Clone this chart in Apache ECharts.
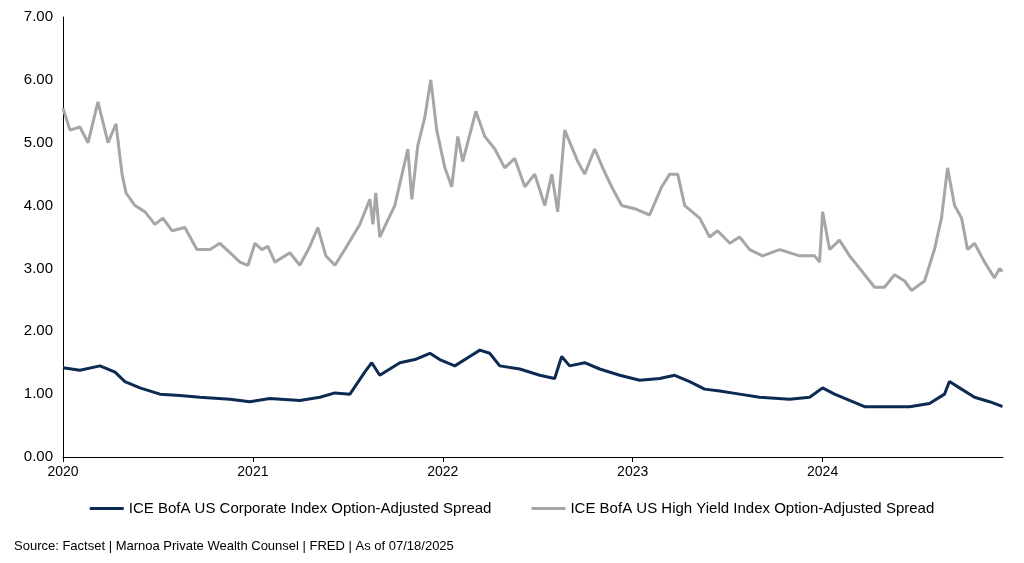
<!DOCTYPE html>
<html><head><meta charset="utf-8">
<script src="https://cdn.jsdelivr.net/npm/echarts@6/dist/echarts.min.js"></script>
<style>html,body{margin:0;padding:0;background:#fff}#c{width:1024px;height:563px}</style>
</head><body><div id="c"></div>
<script>
const yLabels = ['0.00','1.00','2.00','3.00','4.00','5.00','6.00','7.00'];
const seriesNames = ['ICE BofA US Corporate Index Option-Adjusted Spread','ICE BofA US High Yield Index Option-Adjusted Spread'];
const hyYears = [2020.000,2020.037,2020.089,2020.132,2020.184,2020.237,2020.279,2020.311,2020.332,2020.379,2020.432,2020.484,2020.526,2020.574,2020.642,2020.705,2020.774,2020.826,2020.879,2020.932,2020.974,2021.011,2021.047,2021.079,2021.116,2021.195,2021.247,2021.300,2021.342,2021.384,2021.432,2021.484,2021.563,2021.616,2021.632,2021.647,2021.668,2021.747,2021.816,2021.837,2021.868,2021.905,2021.937,2021.968,2022.011,2022.047,2022.079,2022.105,2022.174,2022.221,2022.274,2022.326,2022.379,2022.432,2022.484,2022.537,2022.574,2022.605,2022.642,2022.711,2022.747,2022.800,2022.842,2022.889,2022.942,2023.011,2023.089,2023.153,2023.195,2023.237,2023.274,2023.353,2023.405,2023.447,2023.511,2023.563,2023.616,2023.684,2023.774,2023.879,2023.958,2023.984,2024.000,2024.037,2024.089,2024.142,2024.195,2024.274,2024.326,2024.379,2024.432,2024.468,2024.537,2024.589,2024.626,2024.658,2024.695,2024.732,2024.763,2024.800,2024.853,2024.905,2024.932,2024.947];
const hyValues = [5.55,5.2,5.25,5.0,5.65,5.0,5.3,4.5,4.2,4.0,3.9,3.7,3.8,3.6,3.65,3.3,3.3,3.4,3.25,3.1,3.05,3.4,3.3,3.35,3.1,3.25,3.05,3.35,3.65,3.2,3.05,3.3,3.7,4.1,3.7,4.2,3.5,4.0,4.9,4.1,4.95,5.4,6.0,5.2,4.6,4.3,5.1,4.7,5.5,5.1,4.9,4.6,4.75,4.3,4.5,4.0,4.5,3.9,5.2,4.7,4.5,4.9,4.6,4.3,4.0,3.95,3.85,4.3,4.5,4.5,4.0,3.8,3.5,3.6,3.4,3.5,3.3,3.2,3.3,3.2,3.2,3.1,3.9,3.3,3.45,3.2,3.0,2.7,2.7,2.9,2.8,2.65,2.8,3.3,3.8,4.6,4.0,3.8,3.3,3.4,3.1,2.85,3.0,2.95];
const igYears = [2020.000,2020.089,2020.195,2020.274,2020.326,2020.405,2020.511,2020.616,2020.721,2020.879,2020.984,2021.089,2021.247,2021.353,2021.432,2021.511,2021.589,2021.626,2021.668,2021.774,2021.853,2021.932,2021.984,2022.063,2022.142,2022.195,2022.247,2022.300,2022.405,2022.511,2022.589,2022.626,2022.668,2022.747,2022.826,2022.932,2023.037,2023.142,2023.221,2023.300,2023.379,2023.458,2023.563,2023.668,2023.826,2023.932,2024.000,2024.063,2024.142,2024.221,2024.353,2024.458,2024.563,2024.642,2024.668,2024.721,2024.800,2024.879,2024.932,2024.947];
const igValues = [1.42,1.38,1.45,1.35,1.2,1.1,1.0,0.98,0.95,0.92,0.88,0.93,0.9,0.95,1.02,1.0,1.35,1.5,1.3,1.5,1.55,1.65,1.55,1.45,1.6,1.7,1.65,1.45,1.4,1.3,1.25,1.6,1.45,1.5,1.4,1.3,1.22,1.25,1.3,1.2,1.08,1.05,1.0,0.95,0.92,0.95,1.1,1.0,0.9,0.8,0.8,0.8,0.85,1.0,1.2,1.1,0.95,0.88,0.82,0.8];
const zip = (a,b)=>a.map((x,i)=>[x,b[i]]);
const chart = echarts.init(document.getElementById('c'));
const font = 'Liberation Sans, Arial, sans-serif';
chart.setOption({
  animation:false,
  grid:{left:63,right:21,top:17,bottom:106},
  xAxis:{type:'value',min:2020,max:2024.95,interval:1,
    axisLine:{lineStyle:{color:'#000',width:1}},axisTick:{show:true,length:5,lineStyle:{color:'#000'}},
    splitLine:{show:false},
    axisLabel:{color:'#000',fontSize:14,fontFamily:font,margin:8,formatter:v=>String(Math.round(v)),showMaxLabel:false}},
  yAxis:{type:'value',min:0,max:7,interval:1,
    axisLine:{show:true,lineStyle:{color:'#000',width:1}},axisTick:{show:false},splitLine:{show:false},
    axisLabel:{color:'#000',fontSize:15,fontFamily:font,margin:10,formatter:v=>yLabels[Math.round(v)]}},
  legend:{bottom:42,left:'center',itemGap:40,itemWidth:34,itemHeight:3,icon:'rect',
    textStyle:{color:'#000',fontSize:15,fontFamily:font}},
  graphic:[{type:'text',left:14,top:540,style:{text:'Source: Factset | Marnoa Private Wealth Counsel | FRED | As of 07/18/2025',fill:'#000',font:'13px Liberation Sans, Arial'}}],
  series:[
    {name:seriesNames[0],type:'line',data:zip(igYears,igValues),showSymbol:false,lineStyle:{color:'#0d2b52',width:3},itemStyle:{color:'#0d2b52'}},
    {name:seriesNames[1],type:'line',data:zip(hyYears,hyValues),showSymbol:false,lineStyle:{color:'#a6a6a6',width:3},itemStyle:{color:'#a6a6a6'}}
  ]
});
</script></body></html>
